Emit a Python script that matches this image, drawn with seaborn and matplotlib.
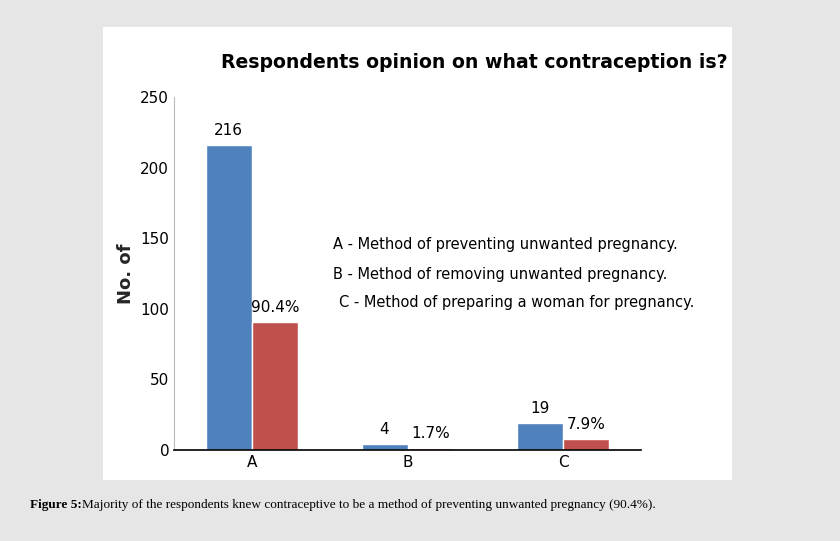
import matplotlib
matplotlib.use("Agg")
import matplotlib.pyplot as plt
import matplotlib.patches as mpatches
import pandas as pd
import seaborn as sns

categories = ["A", "B", "C"]
counts = [216, 4, 19]
percents = [90.4, 1.7, 7.9]
count_labels = ["216", "4", "19"]
pct_labels = ["90.4%", "1.7%", "7.9%"]

df = pd.DataFrame({
    "cat": categories * 2,
    "val": counts + percents,
    "series": ["n"] * 3 + ["pct"] * 3,
})

sns.set_style("white")
plt.rcParams["font.family"] = ["DejaVu Sans"]
plt.rcParams["text.color"] = "black"
plt.rcParams["xtick.color"] = "black"
plt.rcParams["ytick.color"] = "black"

fig = plt.figure(figsize=(8.4, 5.41), dpi=100, facecolor="#e6e6e6")
# white chart panel
fig.patches.append(mpatches.Rectangle((103 / 840, 1 - 480 / 541), (732 - 103) / 840, (480 - 27) / 541,
                                      transform=fig.transFigure, facecolor="white", edgecolor="none", zorder=-5))

ax = fig.add_axes([174 / 840, 1 - 450 / 541, (641 - 174) / 840, (450 - 97) / 541])
ax.set_zorder(5)
ax.set_facecolor("none")
sns.barplot(data=df, x="cat", y="val", hue="series", palette=["#4f81bd", "#c0504d"],
            width=0.59, ax=ax, legend=False, saturation=1)
ax.set_ylim(0, 250)
ax.set_yticks(range(0, 251, 50))
ax.tick_params(axis="both", labelsize=11, length=0)
ax.set_xlabel("")
ax.set_ylabel("No. of", fontsize=13, fontweight="bold")
for s in ["top", "right"]:
    ax.spines[s].set_visible(False)
ax.spines["left"].set_color("#bbbbbb")
ax.spines["bottom"].set_color("black")
ax.spines["bottom"].set_linewidth(1.2)

for bars, labels in zip(ax.containers, [count_labels, pct_labels]):
    ax.bar_label(bars, labels=labels, padding=5, fontsize=11)

fig.text(474 / 840, 1 - 62 / 541, "Respondents opinion on what contraception is?",
         ha="center", va="center", fontsize=13.6, fontweight="bold", zorder=6)
legend_lines = ["A - Method of preventing unwanted pregnancy.",
                "B - Method of removing unwanted pregnancy.",
                "C - Method of preparing a woman for pregnancy."]
for i, (x0, line) in enumerate(zip([333, 333, 339], legend_lines)):
    fig.text(x0 / 840, 1 - (245 + i * 29) / 541, line, ha="left", va="center", fontsize=10.5, zorder=6)

fig.text(30 / 840, 1 - 505 / 541, "Figure 5:", ha="left", va="center", fontsize=9.5,
         fontweight="bold", family="Liberation Serif")
fig.text(82 / 840, 1 - 505 / 541,
         "Majority of the respondents knew contraceptive to be a method of preventing unwanted pregnancy (90.4%).",
         ha="left", va="center", fontsize=9.5, family="Liberation Serif")

fig.savefig("out.png", dpi=100, facecolor=fig.get_facecolor())
